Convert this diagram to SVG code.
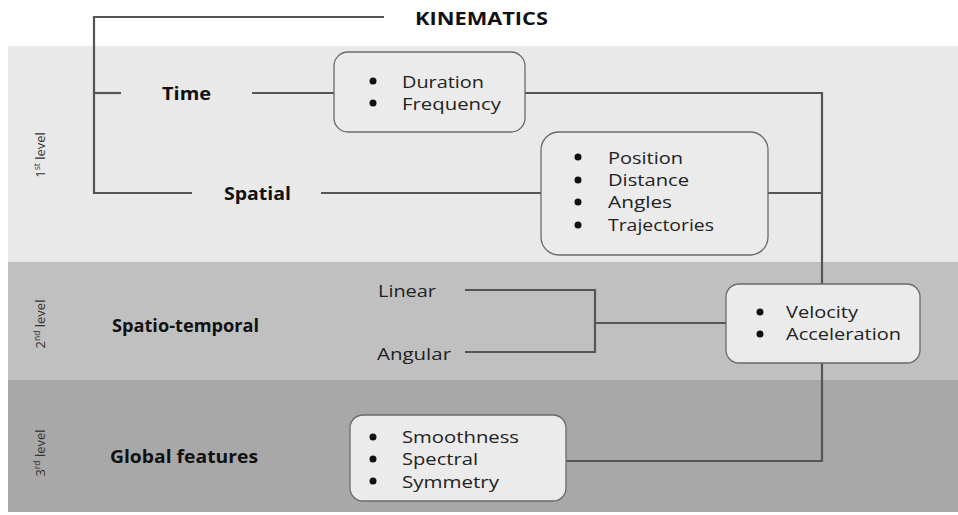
<svg xmlns="http://www.w3.org/2000/svg" width="958" height="515" viewBox="0 0 958 515">
<style>
.band1{fill:#e9e9e9}
.band2{fill:#c0c0c0}
.band3{fill:#a8a8a8}
.box{fill:#ebebeb;stroke:#6a6a6a;stroke-width:1.3}
.conn{fill:none;stroke:#555;stroke-width:2.2}
.lbl{font-family:"Open Sans","Liberation Sans",sans-serif;font-weight:700;font-size:17px;fill:#111;dominant-baseline:central}
.item{font-family:"Open Sans","Liberation Sans",sans-serif;font-size:17px;fill:#222;dominant-baseline:central}
.plain{font-family:"Open Sans","Liberation Sans",sans-serif;font-size:17px;fill:#222;dominant-baseline:central}
.lvl{font-family:"Open Sans","Liberation Sans",sans-serif;font-size:13px;fill:#333;text-anchor:middle}
.sup{font-size:8.5px}
</style>
<rect width="958" height="515" fill="#ffffff"/>
<rect class="band1" x="8" y="46" width="950" height="216"/>
<rect class="band2" x="8" y="262" width="950" height="118"/>
<rect class="band3" x="8" y="380" width="950" height="132"/>

<g id="levels">
<text class="lvl" transform="translate(45,155) rotate(-90)">1<tspan class="sup" dy="-5">st</tspan><tspan dy="5"> level</tspan></text>
<text class="lvl" transform="translate(45,324) rotate(-90)">2<tspan class="sup" dy="-5">nd</tspan><tspan dy="5"> level</tspan></text>
<text class="lvl" transform="translate(45,453) rotate(-90)">3<tspan class="sup" dy="-5">rd</tspan><tspan dy="5"> level</tspan></text>
</g>

<g id="connectors">
<path class="conn" d="M384,17 H94 V193 H192"/>
<path class="conn" d="M94,93 H121"/>
<path class="conn" d="M252,93 H334"/>
<path class="conn" d="M321,193 H541"/>
<path class="conn" d="M525,93 H822 V284"/>
<path class="conn" d="M768,193 H822"/>
<path class="conn" d="M822,363 V461 H566"/>
<path class="conn" d="M465,290 H595 V352 H465"/>
<path class="conn" d="M595,323 H726"/>
</g>

<g id="kinematics"><text class="lbl" x="415" y="18" textLength="133" lengthAdjust="spacingAndGlyphs">KINEMATICS</text></g>
<g id="time"><text class="lbl" x="162" y="93" textLength="49" lengthAdjust="spacingAndGlyphs">Time</text></g>
<g id="spatial"><text class="lbl" x="224" y="193" textLength="67" lengthAdjust="spacingAndGlyphs">Spatial</text></g>
<g id="spatiotemporal"><text class="lbl" x="112" y="325" textLength="147" lengthAdjust="spacingAndGlyphs">Spatio-temporal</text></g>
<g id="global"><text class="lbl" x="110" y="456" textLength="148" lengthAdjust="spacingAndGlyphs">Global features</text></g>
<g id="linear"><text class="plain" x="378" y="290" textLength="58" lengthAdjust="spacingAndGlyphs">Linear</text></g>
<g id="angular"><text class="plain" x="377" y="353" textLength="74" lengthAdjust="spacingAndGlyphs">Angular</text></g>

<g id="timebox">
<rect class="box" x="334" y="52" width="191" height="80" rx="14"/>
<circle cx="373" cy="81" r="3.5" fill="#111"/><circle cx="373" cy="103" r="3.5" fill="#111"/>
<text class="item" x="402" y="81" textLength="82" lengthAdjust="spacingAndGlyphs">Duration</text>
<text class="item" x="402" y="103" textLength="99" lengthAdjust="spacingAndGlyphs">Frequency</text>
</g>

<g id="spatialbox">
<rect class="box" x="541" y="132" width="227" height="123" rx="18"/>
<circle cx="578" cy="157" r="3.5" fill="#111"/><circle cx="578" cy="180" r="3.5" fill="#111"/><circle cx="578" cy="202" r="3.5" fill="#111"/><circle cx="578" cy="225" r="3.5" fill="#111"/>
<text class="item" x="608" y="157" textLength="75" lengthAdjust="spacingAndGlyphs">Position</text>
<text class="item" x="608" y="179" textLength="81" lengthAdjust="spacingAndGlyphs">Distance</text>
<text class="item" x="608" y="201" textLength="64" lengthAdjust="spacingAndGlyphs">Angles</text>
<text class="item" x="608" y="224" textLength="106" lengthAdjust="spacingAndGlyphs">Trajectories</text>
</g>

<g id="velocitybox">
<rect class="box" x="726" y="284" width="194" height="79" rx="13"/>
<circle cx="760" cy="312" r="3.5" fill="#111"/><circle cx="760" cy="334" r="3.5" fill="#111"/>
<text class="item" x="786" y="311" textLength="72" lengthAdjust="spacingAndGlyphs">Velocity</text>
<text class="item" x="786" y="333" textLength="115" lengthAdjust="spacingAndGlyphs">Acceleration</text>
</g>

<g id="globalbox">
<rect class="box" x="350" y="415" width="216" height="86" rx="13"/>
<circle cx="373" cy="437" r="3.5" fill="#111"/><circle cx="373" cy="459" r="3.5" fill="#111"/><circle cx="373" cy="481" r="3.5" fill="#111"/>
<text class="item" x="402" y="436" textLength="117" lengthAdjust="spacingAndGlyphs">Smoothness</text>
<text class="item" x="402" y="458" textLength="76" lengthAdjust="spacingAndGlyphs">Spectral</text>
<text class="item" x="402" y="481" textLength="97" lengthAdjust="spacingAndGlyphs">Symmetry</text>
</g>
</svg>
